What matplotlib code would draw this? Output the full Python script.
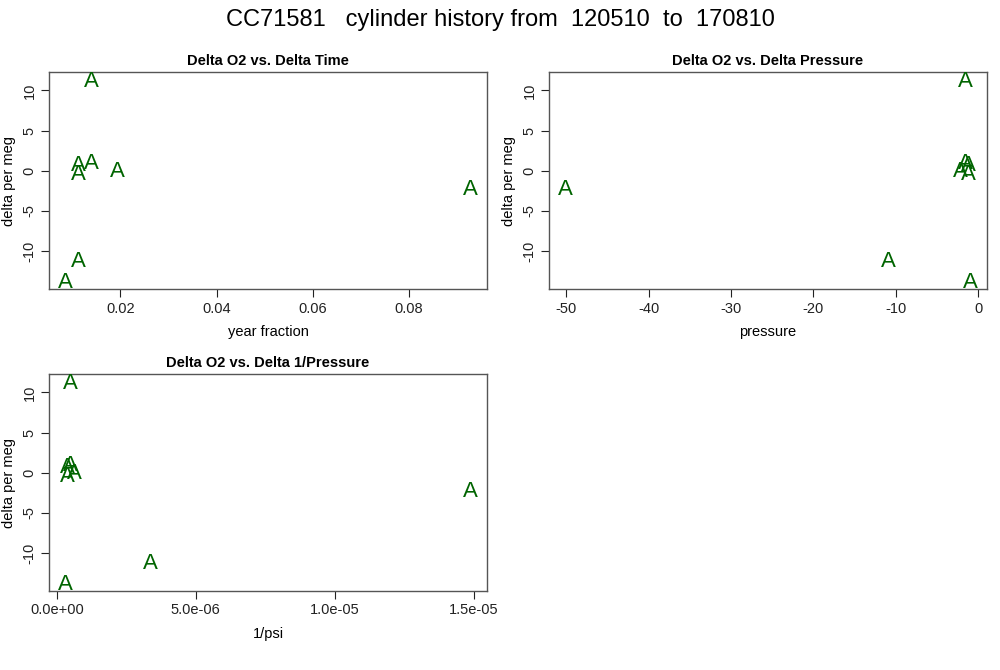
import numpy as np
import matplotlib
matplotlib.use("Agg")
import matplotlib.pyplot as plt
from matplotlib.ticker import FixedLocator, FixedFormatter
from matplotlib.transforms import offset_copy

plt.rcParams['font.family'] = ['Liberation Sans', 'DejaVu Sans']

# values
delta_o2 = [11.3, 0.83, -0.3, 1.04, 0.12, -2.17, -11.1, -13.75]
delta_time = [0.0140, 0.0112, 0.0112, 0.0140, 0.0193, 0.0929, 0.0112, 0.0085]
delta_pressure = [-1.53, -1.21, -1.21, -1.53, -2.22, -50.1, -10.9, -0.93]
delta_inv_pressure = [0.47e-6, 0.37e-6, 0.37e-6, 0.47e-6, 0.64e-6, 14.9e-6, 3.35e-6, 0.30e-6]

y_ticks = [-10, -5, 0, 5, 10]
time_ticks = [0.02, 0.04, 0.06, 0.08]
pressure_ticks = [-50, -40, -30, -20, -10, 0]
inv_ticks = [0.0, 5e-6, 1e-5, 1.5e-5]
inv_labels = ["0.0e+00", "5.0e-06", "1.0e-05", "1.5e-05"]

W, H = 1000, 670
fig = plt.figure(figsize=(W / 100, H / 100), dpi=100)
fig.text(0.5, 1 - 20 / H, "CC71581   cylinder history from  120510  to  170810",
         ha="center", va="center", fontsize=17)


def r_lim(v):
    lo, hi = min(v), max(v)
    pad = (hi - lo) * 0.04
    return lo - pad, hi + pad


def panel(left, top, right, bottom, x, y, title, xlabel, xticks, xlabels=None):
    ax = fig.add_axes([left / W, 1 - bottom / H, (right - left) / W, (bottom - top) / H])
    # R centres pch characters on the point; nudge down a little to match
    tr = offset_copy(ax.transData, fig=fig, x=0, y=-1.5, units="dots")
    for xi, yi in zip(x, y):
        ax.text(xi, yi, "A", color="#006400", fontsize=16, ha="center", va="center",
                transform=tr)
    ax.set_xlim(*r_lim(x))
    ax.set_ylim(*r_lim(y))
    ax.xaxis.set_major_locator(FixedLocator(xticks))
    if xlabels is None:
        xlabels = [("%g" % t) for t in xticks]
    ax.xaxis.set_major_formatter(FixedFormatter(xlabels))
    ax.yaxis.set_major_locator(FixedLocator(y_ticks))
    ax.set_yticklabels([str(t) for t in y_ticks], rotation=90, va="center")
    ax.tick_params(direction="out", length=6, width=0.8, labelsize=10.5, colors="#222222")
    ax.tick_params(axis="x", pad=3)
    ax.tick_params(axis="y", pad=3)
    for s in ax.spines.values():
        s.set_color("#555555")
        s.set_linewidth(1.0)
    ax.set_title(title, fontsize=10.5, fontweight="bold", pad=5)
    ax.set_xlabel(xlabel, fontsize=10.5, labelpad=7)
    ax.set_ylabel("delta per meg", fontsize=10.5, labelpad=5)
    return ax


panel(49, 72, 487, 289, delta_time, delta_o2, "Delta O2 vs. Delta Time",
      "year fraction", time_ticks)
panel(549, 72, 987, 289, delta_pressure, delta_o2, "Delta O2 vs. Delta Pressure",
      "pressure", pressure_ticks)
panel(49, 374, 487, 591, delta_inv_pressure, delta_o2, "Delta O2 vs. Delta 1/Pressure",
      "1/psi", inv_ticks, inv_labels)

fig.savefig("out.png", dpi=100)
